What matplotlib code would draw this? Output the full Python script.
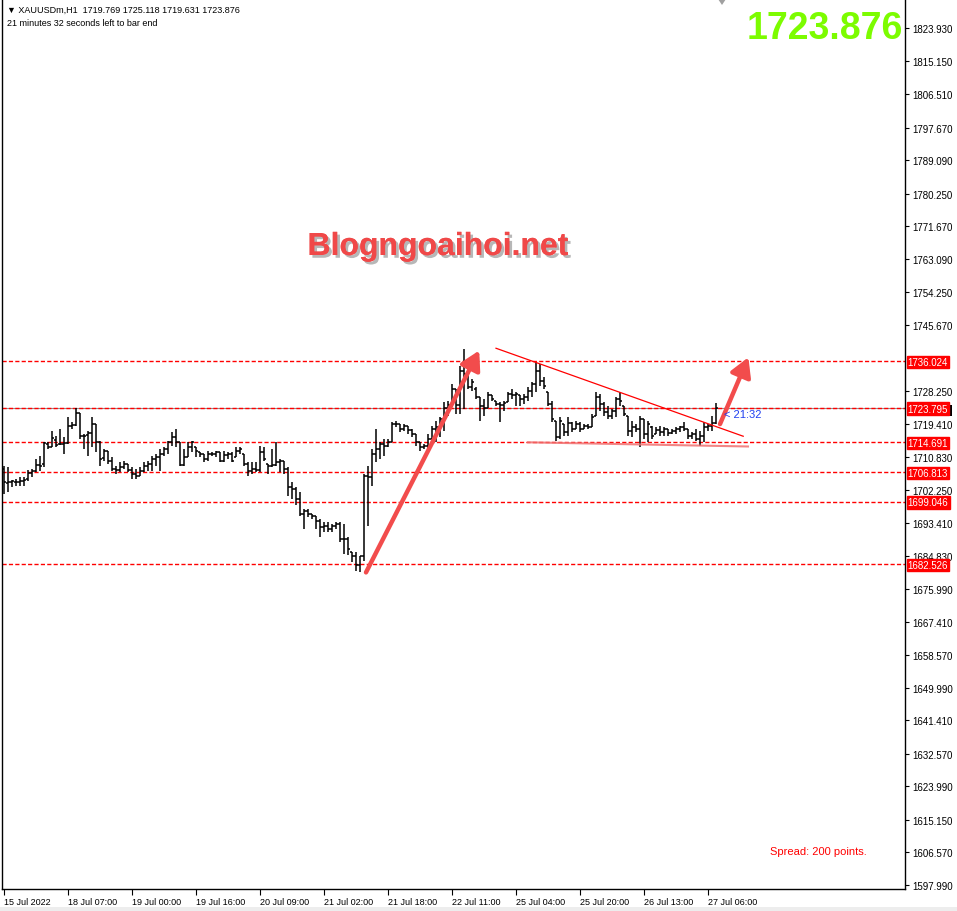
# XAUUSDm H1 chart (MT4 style)

import numpy as np
import matplotlib.pyplot as plt
import matplotlib.patheffects as pe
from matplotlib.patches import Rectangle, Polygon

plt.rcParams['font.family'] = ['Liberation Sans', 'DejaVu Sans']

# OHLC values, one hourly bar each
opens = [1707.7, 1704.0, 1704.2, 1704.2, 1704.2, 1704.5, 1705.0, 1706.6, 1707.1, 1708.7,
         1709.0, 1714.3, 1713.5, 1715.3, 1714.3, 1714.3, 1714.5, 1719.0, 1719.2, 1722.4,
         1716.4, 1716.6, 1717.2, 1719.5, 1714.8, 1710.6, 1712.4, 1709.8, 1707.7, 1707.4,
         1708.2, 1709.0, 1707.4, 1706.4, 1705.8, 1707.1, 1708.5, 1709.0, 1710.3, 1710.8,
         1711.6, 1712.9, 1714.8, 1716.1, 1714.8, 1708.7, 1710.8, 1713.5, 1713.5, 1712.2,
         1711.6, 1710.3, 1711.6, 1711.6, 1712.2, 1709.8, 1711.4, 1711.6, 1710.8, 1712.4,
         1711.6, 1709.0, 1707.1, 1707.7, 1707.4, 1712.2, 1709.0, 1708.5, 1708.7, 1709.5,
         1709.8, 1707.7, 1702.9, 1702.4, 1699.8, 1695.7, 1696.6, 1695.8, 1695.3, 1694.0,
         1692.4, 1692.6, 1691.9, 1692.6, 1693.2, 1689.2, 1689.2, 1685.8, 1684.7, 1682.4,
         1684.7, 1705.8, 1705.6, 1711.6, 1712.9, 1714.3, 1713.7, 1714.8, 1719.5, 1719.5,
         1718.2, 1719.0, 1718.0, 1716.9, 1714.8, 1713.5, 1713.7, 1715.6, 1718.2, 1718.7,
         1720.8, 1723.8, 1724.6, 1728.8, 1724.6, 1733.5, 1732.7, 1729.3, 1728.8, 1726.7,
         1724.2, 1723.7, 1727.2, 1725.6, 1724.8, 1724.5, 1725.3, 1727.4, 1727.2, 1727.2,
         1726.1, 1726.7, 1728.2, 1730.1, 1733.5, 1730.9, 1728.0, 1724.8, 1720.3, 1716.1,
         1719.5, 1717.4, 1719.8, 1718.2, 1719.5, 1718.2, 1719.0, 1718.7, 1721.6, 1726.7,
         1724.8, 1722.7, 1721.6, 1722.9, 1726.1, 1724.3, 1721.6, 1717.7, 1718.7, 1718.2,
         1720.8, 1716.9, 1718.7, 1716.9, 1718.0, 1717.4, 1718.2, 1717.2, 1717.7, 1718.2,
         1718.7, 1718.2, 1716.4, 1716.9, 1715.6, 1716.4, 1718.7, 1719.0, 1719.769]
highs = [1708.5, 1708.2, 1704.8, 1705.0, 1705.6, 1705.6, 1707.4, 1707.7, 1710.3, 1711.1,
         1714.8, 1714.8, 1717.7, 1716.4, 1718.2, 1716.1, 1721.4, 1720.1, 1723.8, 1722.4,
         1716.9, 1717.7, 1721.4, 1719.5, 1715.0, 1712.9, 1712.4, 1710.9, 1708.5, 1709.5,
         1709.8, 1709.0, 1708.2, 1707.7, 1708.2, 1709.5, 1709.8, 1711.1, 1711.6, 1712.9,
         1713.5, 1715.0, 1717.4, 1718.2, 1714.8, 1712.9, 1714.8, 1715.0, 1713.5, 1712.2,
         1711.6, 1712.4, 1712.2, 1712.4, 1712.2, 1712.4, 1712.2, 1712.2, 1713.5, 1713.5,
         1711.6, 1709.5, 1709.5, 1709.5, 1713.7, 1713.5, 1709.0, 1712.9, 1714.8, 1710.3,
         1709.8, 1708.2, 1704.2, 1702.9, 1701.6, 1697.1, 1697.1, 1695.8, 1695.3, 1694.5,
         1693.7, 1693.7, 1693.2, 1693.7, 1693.7, 1693.2, 1689.7, 1685.8, 1685.8, 1684.7,
         1706.4, 1708.5, 1712.9, 1718.2, 1714.8, 1715.6, 1715.6, 1720.1, 1720.3, 1719.5,
         1719.5, 1719.0, 1718.2, 1716.9, 1714.8, 1714.3, 1716.9, 1719.0, 1720.3, 1721.4,
         1725.3, 1725.6, 1730.1, 1728.8, 1734.8, 1739.3, 1733.5, 1731.4, 1729.3, 1726.7,
         1726.1, 1728.0, 1727.2, 1725.6, 1725.3, 1725.6, 1728.0, 1728.8, 1728.0, 1727.2,
         1727.4, 1729.3, 1730.6, 1735.9, 1735.3, 1731.9, 1728.0, 1725.6, 1720.3, 1721.4,
         1719.5, 1721.4, 1720.1, 1720.3, 1720.1, 1719.5, 1719.5, 1722.2, 1728.0, 1727.4,
         1725.3, 1724.3, 1723.5, 1726.7, 1728.0, 1724.3, 1721.6, 1720.3, 1719.5, 1721.6,
         1720.8, 1720.3, 1719.0, 1718.7, 1719.0, 1718.7, 1718.2, 1718.2, 1718.7, 1719.0,
         1720.1, 1718.2, 1717.4, 1718.2, 1717.7, 1720.1, 1719.5, 1721.6, 1725.118]
lows = [1701.1, 1701.6, 1702.9, 1703.2, 1703.2, 1703.2, 1704.5, 1705.6, 1706.9, 1707.1,
        1708.2, 1712.9, 1713.5, 1713.5, 1714.0, 1711.6, 1714.3, 1718.2, 1719.0, 1715.6,
        1712.9, 1711.1, 1713.5, 1712.2, 1708.5, 1709.8, 1709.0, 1707.1, 1706.4, 1706.9,
        1707.7, 1706.9, 1705.0, 1705.0, 1705.8, 1706.9, 1707.1, 1707.1, 1708.5, 1707.1,
        1711.1, 1711.6, 1713.7, 1713.5, 1708.5, 1708.5, 1710.8, 1712.2, 1710.8, 1710.8,
        1709.5, 1709.8, 1711.1, 1710.8, 1709.5, 1709.5, 1710.3, 1709.5, 1710.8, 1711.6,
        1708.5, 1705.8, 1706.4, 1706.9, 1706.9, 1709.8, 1706.4, 1708.2, 1708.5, 1706.9,
        1706.4, 1700.5, 1699.8, 1698.1, 1695.3, 1691.9, 1695.0, 1694.5, 1691.9, 1689.7,
        1691.1, 1691.1, 1691.1, 1691.9, 1688.4, 1685.3, 1685.0, 1683.2, 1680.8, 1680.5,
        1683.4, 1692.6, 1703.2, 1709.5, 1710.3, 1711.1, 1713.5, 1714.8, 1718.7, 1717.4,
        1717.7, 1716.9, 1716.1, 1713.7, 1712.4, 1712.9, 1712.9, 1715.6, 1714.8, 1716.1,
        1717.7, 1721.6, 1724.0, 1722.2, 1722.2, 1723.5, 1728.8, 1728.2, 1726.1, 1720.3,
        1721.6, 1723.7, 1725.6, 1724.2, 1720.0, 1722.9, 1725.3, 1726.1, 1724.3, 1724.2,
        1724.8, 1725.6, 1726.7, 1728.0, 1729.5, 1728.8, 1724.3, 1720.0, 1715.0, 1715.6,
        1716.4, 1716.4, 1717.4, 1718.2, 1717.4, 1718.2, 1718.2, 1718.7, 1721.6, 1722.9,
        1721.6, 1720.8, 1720.8, 1721.4, 1724.3, 1721.6, 1716.4, 1716.1, 1717.4, 1713.5,
        1715.6, 1714.8, 1715.6, 1716.9, 1716.4, 1716.4, 1716.4, 1716.9, 1716.9, 1717.4,
        1717.7, 1715.6, 1715.6, 1715.0, 1713.7, 1714.8, 1717.7, 1717.7, 1719.631]
closes = [1704.2, 1704.2, 1704.5, 1704.2, 1704.5, 1704.8, 1706.6, 1707.1, 1708.7, 1708.5,
          1714.5, 1713.5, 1715.8, 1714.0, 1714.3, 1714.5, 1719.0, 1719.2, 1722.4, 1716.4,
          1716.4, 1717.2, 1719.5, 1714.8, 1710.3, 1712.4, 1709.8, 1707.7, 1707.4, 1708.2,
          1709.0, 1707.4, 1706.4, 1705.8, 1707.1, 1708.5, 1709.0, 1710.3, 1710.8, 1711.6,
          1712.9, 1714.8, 1716.1, 1714.8, 1708.7, 1710.8, 1713.5, 1714.8, 1712.4, 1711.6,
          1710.3, 1711.6, 1711.6, 1712.2, 1709.8, 1711.4, 1711.6, 1709.8, 1712.4, 1712.9,
          1709.0, 1707.1, 1707.7, 1707.4, 1712.2, 1710.3, 1708.5, 1708.7, 1709.5, 1709.8,
          1707.7, 1702.9, 1702.4, 1699.8, 1695.7, 1696.6, 1695.8, 1695.3, 1694.0, 1692.4,
          1692.6, 1691.9, 1692.6, 1693.2, 1689.2, 1689.2, 1686.6, 1684.7, 1682.4, 1684.7,
          1705.8, 1705.6, 1711.6, 1712.9, 1714.3, 1713.7, 1714.8, 1719.5, 1719.5, 1718.2,
          1719.0, 1718.0, 1716.9, 1714.8, 1713.5, 1713.7, 1715.6, 1718.2, 1718.7, 1720.8,
          1723.8, 1724.6, 1728.8, 1724.6, 1733.5, 1732.7, 1729.3, 1730.6, 1726.7, 1724.2,
          1723.7, 1727.2, 1726.1, 1724.8, 1724.5, 1725.0, 1727.4, 1727.2, 1727.4, 1726.1,
          1726.7, 1728.2, 1730.1, 1733.5, 1730.9, 1729.5, 1724.8, 1720.8, 1716.1, 1720.3,
          1717.4, 1719.8, 1718.2, 1719.5, 1718.2, 1719.0, 1718.7, 1721.4, 1726.7, 1724.8,
          1722.7, 1721.6, 1722.9, 1726.1, 1725.6, 1722.2, 1717.7, 1718.7, 1718.2, 1720.8,
          1716.9, 1719.5, 1716.4, 1718.0, 1717.4, 1718.2, 1717.2, 1717.7, 1718.2, 1718.7,
          1718.2, 1716.4, 1716.9, 1715.6, 1716.4, 1718.7, 1719.0, 1719.8, 1723.876]

time_labels = ['15 Jul 2022', '18 Jul 07:00', '19 Jul 00:00', '19 Jul 16:00',
               '20 Jul 09:00', '21 Jul 02:00', '21 Jul 18:00', '22 Jul 11:00',
               '25 Jul 04:00', '25 Jul 20:00', '26 Jul 13:00', '27 Jul 06:00']
bars_per_label = 16

price_ticks = [1823.930, 1815.150, 1806.510, 1797.670, 1789.090, 1780.250, 1771.670,
               1763.090, 1754.250, 1745.670, 1728.250, 1719.410, 1710.830, 1702.250,
               1693.410, 1684.830, 1675.990, 1667.410, 1658.570, 1649.990, 1641.410,
               1632.570, 1623.990, 1615.150, 1606.570, 1597.990]

levels = [1736.024, 1723.795, 1714.691, 1706.813, 1699.046, 1682.526]
bid = 1723.876

# drawn objects (bar index, price)
trend_line = [(123, 1739.5), (184.8, 1716.3)]
support_line = [(131, 1714.7), (186, 1713.6)]
arrow_up1 = [(90.5, 1680.4), (118.8, 1738.9)]
arrow_up2 = [(179, 1719.5), (186.1, 1737.1)]

W, H = 957, 912
fig = plt.figure(figsize=(W / 100, H / 100), dpi=100)
ax = fig.add_axes([2 / W, 22 / H, 903 / W, 890 / H])

x = np.arange(len(closes))
ax.vlines(x, lows, highs, color='black', lw=1.1)
ax.hlines(opens, x - 0.55, x, color='black', lw=1.1)
ax.hlines(closes, x, x + 0.55, color='black', lw=1.1)

ax.axhline(bid, color='#909090', lw=0.8, zorder=1)
for lv in levels:
    ax.axhline(lv, color='red', lw=1.0, ls=(0, (3, 1.6)), zorder=1)

ax.plot(*zip(*trend_line), color='red', lw=0.9)
ax.plot(*zip(*support_line), color='#F07070', lw=1.5, alpha=0.85)

for tail, tip in (arrow_up1, arrow_up2):
    a = ax.annotate('', xy=tip, xytext=tail,
                    arrowprops=dict(arrowstyle='-|>,head_length=0.7,head_width=0.4',
                                    color='#F24C4C', lw=3.2, shrinkA=0, shrinkB=0,
                                    mutation_scale=16))
    a.arrow_patch.set_path_effects([pe.withSimplePatchShadow(offset=(1.5, -1.5),
                                    shadow_rgbFace='#808080', alpha=0.45)])

ax.set_xlim(-0.5, 225.25)
ax.set_ylim(1596.93, 1831.58)

ax.yaxis.tick_right()
ax.set_yticks(price_ticks)
ax.set_yticklabels([f'{v:.3f}' for v in price_ticks])
ax.tick_params(axis='y', length=3, width=0.8, pad=2, labelsize=7, direction='out')

ax.set_xticks(np.arange(len(time_labels)) * bars_per_label)
ax.set_xticklabels(time_labels)
for t in ax.get_xticklabels():
    t.set_ha('left')
ax.tick_params(axis='x', length=4, width=0.8, pad=2, labelsize=6.5, direction='out')

ax.spines['top'].set_visible(False)
for s in ('left', 'right', 'bottom'):
    ax.spines[s].set_linewidth(1.0)

# price boxes on the axis (black bid box peeks out under the red one)
ytr = ax.get_yaxis_transform()
ax.add_patch(Rectangle((1.002, bid - 2.3), 45 / 903, 3.0, transform=ytr,
                       fc='black', ec='none', clip_on=False))
for lv in levels:
    ax.annotate(f'{lv:.3f}', xy=(1, lv), xycoords=ytr, xytext=(2, -0.5),
                textcoords='offset points', ha='left', va='center', color='white',
                fontsize=7, bbox=dict(boxstyle='square,pad=0.12', fc='red', ec='red'),
                annotation_clip=False)

# texts
fig.text(7 / W, 1 - 10 / H, '\u25bc XAUUSDm,H1  1719.769 1725.118 1719.631 1723.876',
         fontsize=6.5, va='center', ha='left')
fig.text(7 / W, 1 - 23 / H, '21 minutes 32 seconds left to bar end',
         fontsize=6.5, va='center', ha='left')
fig.text(903 / W, 1 - 29 / H, f'{bid:.3f}', fontsize=27, weight='bold',
         color='#7CFC00', ha='right', va='center')
fig.text(438 / W, 1 - 248 / H, 'Blogngoaihoi.net', fontsize=23, weight='bold',
         color='#F04848', ha='center', va='center',
         path_effects=[pe.withSimplePatchShadow(offset=(2, -2), shadow_rgbFace='#707070',
                                                alpha=0.5), pe.Normal()])
fig.text(818 / W, 1 - 852 / H, 'Spread: 200 points.', fontsize=8, color='red',
         ha='center', va='center')
fig.text(724 / W, 1 - 415 / H, '< 21:32', fontsize=8, color='#2040F0',
         ha='left', va='center')

fig.add_artist(Polygon([[718 / W, 1], [726 / W, 1], [722 / W, 1 - 6 / H]], closed=True,
                       transform=fig.transFigure, fc='#A0A0A0', ec='none'))
fig.add_artist(Rectangle((0, 0), 1, 4 / H, transform=fig.transFigure,
                         fc='#EDEDED', ec='none'))

plt.savefig('out.png', dpi=100)
